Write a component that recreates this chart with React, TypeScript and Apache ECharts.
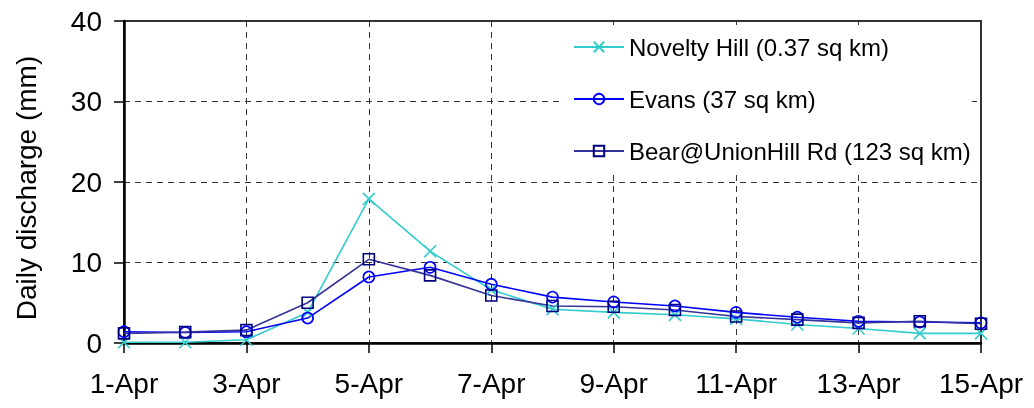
import React, { useEffect, useRef } from "react";
import * as echarts from "echarts";

const dates = ["1-Apr", "2-Apr", "3-Apr", "4-Apr", "5-Apr", "6-Apr", "7-Apr", "8-Apr", "9-Apr", "10-Apr", "11-Apr", "12-Apr", "13-Apr", "14-Apr", "15-Apr"];
const noveltyHill = [0.1, 0.1, 0.4, 3.8, 17.9, 11.4, 6.6, 4.2, 3.8, 3.5, 3.0, 2.3, 1.8, 1.2, 1.2];
const evans = [1.4, 1.3, 1.4, 3.1, 8.2, 9.4, 7.3, 5.7, 5.1, 4.6, 3.8, 3.2, 2.7, 2.6, 2.5];
const bear = [1.2, 1.35, 1.6, 5.0, 10.4, 8.4, 5.9, 4.6, 4.5, 4.1, 3.3, 2.9, 2.5, 2.7, 2.4];
const yTicks = { min: 0, max: 40, interval: 10 };

const FONT = "'Liberation Sans', Arial, sans-serif";

export default function App() {
  const ref = useRef<HTMLDivElement>(null);
  useEffect(() => {
    if (!ref.current) return;
    const chart = echarts.init(ref.current, null, { renderer: "svg" });
    const mk = (name: string, data: number[], lineColor: string, markColor: string, symbol: string, size: number) => ({
      name,
      type: "line",
      data,
      symbol,
      symbolSize: size,
      lineStyle: { color: lineColor, width: 1.6 },
      itemStyle: { color: "rgba(0,0,0,0)", borderColor: markColor, borderWidth: 1.6 },
      emphasis: { disabled: true },
      z: 3,
    });
    chart.setOption({
      animation: false,
      textStyle: { fontFamily: FONT },
      grid: { left: 124, right: 53, top: 21, bottom: 65, show: true, borderColor: "#333", borderWidth: 2, backgroundColor: "#fff" },
      legend: {
        orient: "vertical",
        left: 563,
        top: 25,
        padding: [10, 1, 8, 10],
        backgroundColor: "#fff",
        itemWidth: 50,
        itemHeight: 13,
        itemGap: 28,
        textStyle: { fontSize: 24, color: "#000", fontFamily: FONT },
        data: ["Novelty Hill (0.37 sq km)", "Evans (37 sq km)", "Bear@UnionHill Rd (123 sq km)"],
      },
      xAxis: {
        type: "category",
        data: dates,
        boundaryGap: false,
        axisLine: { lineStyle: { color: "#000", width: 2.5 } },
        axisTick: { show: true, interval: 1, length: 10, lineStyle: { color: "#000", width: 1.5 } },
        axisLabel: { interval: 1, fontSize: 28, color: "#000", margin: 26, fontFamily: FONT },
        splitLine: { show: true, interval: 1, lineStyle: { color: "#333", width: 1, type: [6, 5] } },
      },
      yAxis: {
        type: "value",
        min: yTicks.min,
        max: yTicks.max,
        interval: yTicks.interval,
        name: "Daily discharge (mm)",
        nameLocation: "middle",
        nameRotate: 90,
        nameGap: 84,
        nameTextStyle: { fontSize: 28, color: "#000", fontFamily: FONT, padding: [0, 12, 0, 0] },
        axisLine: { show: true, lineStyle: { color: "#000", width: 2.5 } },
        axisTick: { show: true, length: 10, lineStyle: { color: "#000", width: 1.5 } },
        axisLabel: { fontSize: 28, color: "#000", margin: 22, fontFamily: FONT },
        splitLine: { show: true, lineStyle: { color: "#333", width: 1, type: [6, 5] } },
      },
      series: [
        mk("Novelty Hill (0.37 sq km)", noveltyHill, "#33CCCC", "#33CCCC", "path://M0,0L10,10M0,10L10,0", 12),
        mk("Evans (37 sq km)", evans, "#0000FF", "#0000FF", "circle", 11),
        mk("Bear@UnionHill Rd (123 sq km)", bear, "#333399", "#000080", "rect", 11),
      ],
    });
    return () => chart.dispose();
  }, []);
  return <div ref={ref} style={{ position: "fixed", left: 0, top: 0, width: 1034, height: 408 }} />;
}
